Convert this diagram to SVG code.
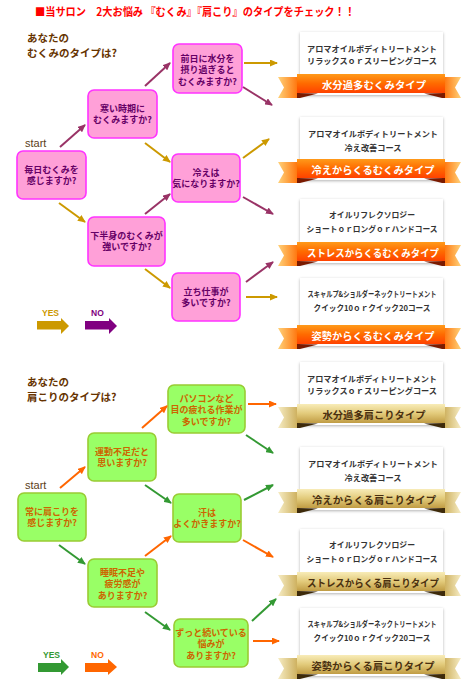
<svg xmlns="http://www.w3.org/2000/svg" xmlns:xlink="http://www.w3.org/1999/xlink" width="475" height="690" viewBox="0 0 475 690">
<style>
.jp{font-family:"Noto Sans CJK JP","Noto Sans",sans-serif;}
.title{font-size:11px;font-weight:bold;fill:#ff0000;}
.head{font-size:10.5px;font-weight:bold;fill:#663300;}
.start{font-family:"Liberation Sans",Arial,sans-serif;font-size:11px;fill:#5c4020;}
.pink rect{fill:#ffa0d8;stroke:#ff33ff;stroke-width:1.6;}
.pink text{font-size:9px;font-weight:bold;fill:#660066;text-anchor:middle;}
.green rect{fill:#99ff66;stroke:#99cc33;stroke-width:1.6;}
.green text{font-size:9px;font-weight:bold;fill:#cc6600;text-anchor:middle;}
.card{fill:#ffffff;filter:url(#sh);}
.ct{font-size:8px;font-weight:bold;fill:#333333;text-anchor:middle;}
.rto{font-size:10px;font-weight:bold;fill:#ffffff;text-anchor:middle;}
.rtg{font-size:10px;font-weight:bold;fill:#4a3010;text-anchor:middle;}
.leg{font-family:"Liberation Sans",Arial,sans-serif;font-size:8.5px;font-weight:bold;}
.c line{stroke-width:2;fill:none;}
.ny{stroke:#cc9900;marker-end:url(#mGold);}
.nn{stroke:#993366;marker-end:url(#mPurp);}
.ky{stroke:#339933;marker-end:url(#mGreen);}
.kn{stroke:#ff6600;marker-end:url(#mOrange);}
</style>
<defs>
<filter id="sh" x="-10%" y="-10%" width="120%" height="130%">
<feDropShadow dx="0" dy="1" stdDeviation="1.6" flood-color="#000" flood-opacity="0.3"/>
</filter>
<marker id="mGold" viewBox="0 0 8 7" refX="7" refY="3.5" markerWidth="8" markerHeight="7" markerUnits="userSpaceOnUse" orient="auto"><path d="M0,0L8,3.5L0,7z" fill="#cc9900"/></marker>
<marker id="mPurp" viewBox="0 0 8 7" refX="7" refY="3.5" markerWidth="8" markerHeight="7" markerUnits="userSpaceOnUse" orient="auto"><path d="M0,0L8,3.5L0,7z" fill="#993366"/></marker>
<marker id="mGreen" viewBox="0 0 8 7" refX="7" refY="3.5" markerWidth="8" markerHeight="7" markerUnits="userSpaceOnUse" orient="auto"><path d="M0,0L8,3.5L0,7z" fill="#339933"/></marker>
<marker id="mOrange" viewBox="0 0 8 7" refX="7" refY="3.5" markerWidth="8" markerHeight="7" markerUnits="userSpaceOnUse" orient="auto"><path d="M0,0L8,3.5L0,7z" fill="#ff6600"/></marker>
<linearGradient id="gBandO" x1="0" y1="0" x2="0" y2="1"><stop offset="0" stop-color="#ff9a1a"/><stop offset="0.5" stop-color="#ff6a00"/><stop offset="1" stop-color="#ff4200"/></linearGradient>
<linearGradient id="gTailOL" x1="0" y1="0" x2="1" y2="0"><stop offset="0" stop-color="#ffd27a"/><stop offset="1" stop-color="#ff6a00"/></linearGradient>
<linearGradient id="gTailOR" x1="1" y1="0" x2="0" y2="0"><stop offset="0" stop-color="#ffd27a"/><stop offset="1" stop-color="#ff6a00"/></linearGradient>
<linearGradient id="gBandG" x1="0" y1="0" x2="0" y2="1"><stop offset="0" stop-color="#f8ecb8"/><stop offset="0.5" stop-color="#e2ca7a"/><stop offset="1" stop-color="#c09c44"/></linearGradient>
<linearGradient id="gTailGL" x1="0" y1="0" x2="1" y2="0"><stop offset="0" stop-color="#f6ecc4"/><stop offset="1" stop-color="#c8a850"/></linearGradient>
<linearGradient id="gTailGR" x1="1" y1="0" x2="0" y2="0"><stop offset="0" stop-color="#f6ecc4"/><stop offset="1" stop-color="#c8a850"/></linearGradient>
<g id="ribO">
<polygon points="278,3 300,3 300,24 278,24 284,13.5" fill="url(#gTailOL)"/>
<polygon points="461,3 442,3 442,24 461,24 455,13.5" fill="url(#gTailOR)"/>
<polygon points="297,19 318,19.5 300,24 297,24" fill="#7a1a00"/>
<polygon points="445,19 424,19.5 442,24 445,24" fill="#7a1a00"/>
<rect x="297" y="0" width="148" height="19" fill="url(#gBandO)"/>
</g>
<g id="ribG">
<polygon points="278,3 300,3 300,24 278,24 284,13.5" fill="url(#gTailGL)"/>
<polygon points="461,3 442,3 442,24 461,24 455,13.5" fill="url(#gTailGR)"/>
<polygon points="297,19 318,19.5 300,24 297,24" fill="#3d2a0a"/>
<polygon points="445,19 424,19.5 442,24 445,24" fill="#3d2a0a"/>
<rect x="297" y="0" width="148" height="19" fill="url(#gBandG)"/>
</g>
</defs>
<rect width="475" height="690" fill="#ffffff"/>

<text class="jp title" x="35" y="16" textLength="320" lengthAdjust="spacingAndGlyphs">■当サロン　2大お悩み 『むくみ』『肩こり』のタイプをチェック！！</text>

<g id="heading-mukumi">
<text class="jp head" x="27" y="41.5">あなたの</text>
<text class="jp head" x="27" y="57">むくみのタイプは?</text>
</g>
<text class="start" x="25" y="147">start</text>

<g class="pink jp">
<g id="m1"><rect x="17" y="151" width="69" height="48" rx="6"/><text x="51.5" y="172.5">毎日むくみを</text><text x="51.5" y="184">感じますか?</text></g>
<g id="m2"><rect x="88" y="90" width="69" height="48" rx="6"/><text x="122.5" y="111.5">寒い時期に</text><text x="122.5" y="123">むくみますか?</text></g>
<g id="m3"><rect x="173" y="44" width="69" height="49" rx="6"/><text x="207.5" y="61.5">前日に水分を</text><text x="207.5" y="73">摂り過ぎると</text><text x="207.5" y="84.5">むくみますか?</text></g>
<g id="m4"><rect x="172" y="154" width="68" height="48" rx="6"/><text x="206" y="175.5">冷えは</text><text x="206" y="187">気になりますか?</text></g>
<g id="m5"><rect x="88" y="217" width="77" height="49" rx="6"/><text x="126.5" y="238.5">下半身のむくみが</text><text x="127" y="250">強いですか?</text></g>
<g id="m6"><rect x="172" y="273" width="68" height="48" rx="6"/><text x="206" y="294.5">立ち仕事が</text><text x="206" y="306">多いですか?</text></g>
</g>

<g id="r1">
<rect class="card" x="300" y="32" width="143" height="63"/>
<use xlink:href="#ribO" href="#ribO" transform="translate(0,74)"/>
<text class="jp ct" x="372" y="51.5" textLength="130" lengthAdjust="spacingAndGlyphs">アロマオイルボディトリートメント</text>
<text class="jp ct" x="372" y="64" textLength="130" lengthAdjust="spacingAndGlyphs">リラックスｏｒスリーピングコース</text>
<text class="jp rto" x="374" y="88.5" textLength="104" lengthAdjust="spacingAndGlyphs">水分過多むくみタイプ</text>
</g>
<g id="r2">
<rect class="card" x="300" y="117" width="143" height="63"/>
<use xlink:href="#ribO" href="#ribO" transform="translate(0,159)"/>
<text class="jp ct" x="373" y="137" textLength="130" lengthAdjust="spacingAndGlyphs">アロマオイルボディトリートメント</text>
<text class="jp ct" x="373" y="150.5" textLength="57" lengthAdjust="spacingAndGlyphs">冷え改善コース</text>
<text class="jp rto" x="373" y="173.5" textLength="123" lengthAdjust="spacingAndGlyphs">冷えからくるむくみタイプ</text>
</g>
<g id="r3">
<rect class="card" x="300" y="199" width="143" height="64"/>
<use xlink:href="#ribO" href="#ribO" transform="translate(0,242)"/>
<text class="jp ct" x="372" y="218" textLength="86" lengthAdjust="spacingAndGlyphs">オイルリフレクソロジー</text>
<text class="jp ct" x="372" y="231.5" textLength="131" lengthAdjust="spacingAndGlyphs">ショートｏｒロングｏｒハンドコース</text>
<text class="jp rto" x="373" y="256.5" textLength="132" lengthAdjust="spacingAndGlyphs">ストレスからくるむくみタイプ</text>
</g>
<g id="r4">
<rect class="card" x="300" y="278" width="143" height="68"/>
<use xlink:href="#ribO" href="#ribO" transform="translate(0,325)"/>
<text class="jp ct" x="372" y="296.5" textLength="129" lengthAdjust="spacingAndGlyphs">スキャルプ&amp;ショルダーネックトリートメント</text>
<text class="jp ct" x="372" y="310.5" textLength="117" lengthAdjust="spacingAndGlyphs">クイック10ｏｒクイック20コース</text>
<text class="jp rto" x="373" y="339.5" textLength="123" lengthAdjust="spacingAndGlyphs">姿勢からくるむくみタイプ</text>
</g>

<g id="legend-top">
<text class="leg" x="42" y="316" fill="#cc9900">YES</text>
<polygon points="37,321 61,321 61,318 69,326 61,334 61,329.5 37,329.5" fill="#cc9900"/>
<text class="leg" x="91" y="316" fill="#800080">NO</text>
<polygon points="85,321 109,321 109,318 117,326 109,334 109,329.5 85,329.5" fill="#800080"/>
</g>

<g id="heading-katakori">
<text class="jp head" x="27" y="385.5">あなたの</text>
<text class="jp head" x="27" y="401">肩こりのタイプは?</text>
</g>
<text class="start" x="25" y="489">start</text>

<g class="green jp">
<g id="k1"><rect x="18" y="493" width="68" height="48" rx="6"/><text x="52" y="514.5">常に肩こりを</text><text x="52" y="526">感じますか?</text></g>
<g id="k2"><rect x="88" y="433" width="68" height="48" rx="6"/><text x="122" y="454.5">運動不足だと</text><text x="122" y="466">思いますか?</text></g>
<g id="k3"><rect x="168" y="385" width="77" height="48" rx="6"/><text x="206.5" y="401.5">パソコンなど</text><text x="206.5" y="413">目の疲れる作業が</text><text x="206.5" y="424.5">多いですか?</text></g>
<g id="k4"><rect x="173" y="494" width="68" height="48" rx="6"/><text x="207" y="515.5">汗は</text><text x="207" y="527">よくかきますか?</text></g>
<g id="k5"><rect x="88" y="559" width="69" height="48" rx="6"/><text x="122.5" y="575.5">睡眠不足や</text><text x="122.5" y="587">疲労感が</text><text x="122.5" y="598.5">ありますか?</text></g>
<g id="k6"><rect x="174" y="619" width="74" height="48" rx="6"/><text x="211" y="635.5">ずっと続いている</text><text x="211" y="647">悩みが</text><text x="211" y="658.5">ありますか?</text></g>
</g>

<g id="r5">
<rect class="card" x="300" y="362" width="143" height="63"/>
<use xlink:href="#ribG" href="#ribG" transform="translate(0,404)"/>
<text class="jp ct" x="372" y="381.5" textLength="130" lengthAdjust="spacingAndGlyphs">アロマオイルボディトリートメント</text>
<text class="jp ct" x="372" y="394" textLength="130" lengthAdjust="spacingAndGlyphs">リラックスｏｒスリーピングコース</text>
<text class="jp rtg" x="374" y="418.5" textLength="103" lengthAdjust="spacingAndGlyphs">水分過多肩こりタイプ</text>
</g>
<g id="r6">
<rect class="card" x="300" y="447" width="143" height="63"/>
<use xlink:href="#ribG" href="#ribG" transform="translate(0,489)"/>
<text class="jp ct" x="373" y="467" textLength="130" lengthAdjust="spacingAndGlyphs">アロマオイルボディトリートメント</text>
<text class="jp ct" x="373" y="480.5" textLength="57" lengthAdjust="spacingAndGlyphs">冷え改善コース</text>
<text class="jp rtg" x="374" y="503.5" textLength="124" lengthAdjust="spacingAndGlyphs">冷えからくる肩こりタイプ</text>
</g>
<g id="r7">
<rect class="card" x="300" y="529" width="143" height="64"/>
<use xlink:href="#ribG" href="#ribG" transform="translate(0,572)"/>
<text class="jp ct" x="372" y="548" textLength="86" lengthAdjust="spacingAndGlyphs">オイルリフレクソロジー</text>
<text class="jp ct" x="372" y="561.5" textLength="131" lengthAdjust="spacingAndGlyphs">ショートｏｒロングｏｒハンドコース</text>
<text class="jp rtg" x="373" y="586.5" textLength="132" lengthAdjust="spacingAndGlyphs">ストレスからくる肩こりタイプ</text>
</g>
<g id="r8">
<rect class="card" x="300" y="608" width="143" height="68"/>
<use xlink:href="#ribG" href="#ribG" transform="translate(0,655)"/>
<text class="jp ct" x="372" y="626.5" textLength="129" lengthAdjust="spacingAndGlyphs">スキャルプ&amp;ショルダーネックトリートメント</text>
<text class="jp ct" x="372" y="640.5" textLength="117" lengthAdjust="spacingAndGlyphs">クイック10ｏｒクイック20コース</text>
<text class="jp rtg" x="373" y="669.5" textLength="123" lengthAdjust="spacingAndGlyphs">姿勢からくる肩こりタイプ</text>
</g>

<g id="legend-bottom">
<text class="leg" x="43" y="658" fill="#339933">YES</text>
<polygon points="38,663 61,663 61,659 69,667 61,675 61,672 38,672" fill="#339933"/>
<text class="leg" x="91" y="658" fill="#ff6600">NO</text>
<polygon points="85,663 108,663 108,659 117,667 108,675 108,672 85,672" fill="#ff6600"/>
</g>

<g id="connectors" class="c">
<line class="nn" x1="60" y1="147" x2="85" y2="125"/>
<line class="ny" x1="59" y1="203" x2="85" y2="222"/>
<line class="nn" x1="145" y1="86" x2="170" y2="63"/>
<line class="ny" x1="145" y1="143" x2="170" y2="162"/>
<line class="ny" x1="244" y1="63" x2="277" y2="63"/>
<line class="nn" x1="243" y1="87" x2="272" y2="105"/>
<line class="ny" x1="243" y1="158" x2="269" y2="139"/>
<line class="nn" x1="243" y1="197" x2="273" y2="214"/>
<line class="nn" x1="145" y1="214" x2="170" y2="194"/>
<line class="ny" x1="145" y1="269" x2="170" y2="288"/>
<line class="nn" x1="246" y1="282" x2="273" y2="262"/>
<line class="ny" x1="246" y1="297" x2="277" y2="297"/>
<line class="kn" x1="60" y1="488" x2="85" y2="467"/>
<line class="kn" x1="142" y1="428" x2="167" y2="406"/>
<line class="kn" x1="248" y1="404" x2="276" y2="404"/>
<line class="ky" x1="246" y1="435" x2="273" y2="453"/>
<line class="ky" x1="145" y1="485" x2="171" y2="503"/>
<line class="ky" x1="244" y1="500" x2="273" y2="485"/>
<line class="kn" x1="243" y1="540" x2="273" y2="557"/>
<line class="ky" x1="59" y1="545" x2="85" y2="564"/>
<line class="kn" x1="145" y1="556" x2="171" y2="536"/>
<line class="ky" x1="145" y1="612" x2="170" y2="630"/>
<line class="ky" x1="252" y1="621" x2="276" y2="599"/>
<line class="kn" x1="253" y1="641" x2="279" y2="641"/>
</g>
</svg>
